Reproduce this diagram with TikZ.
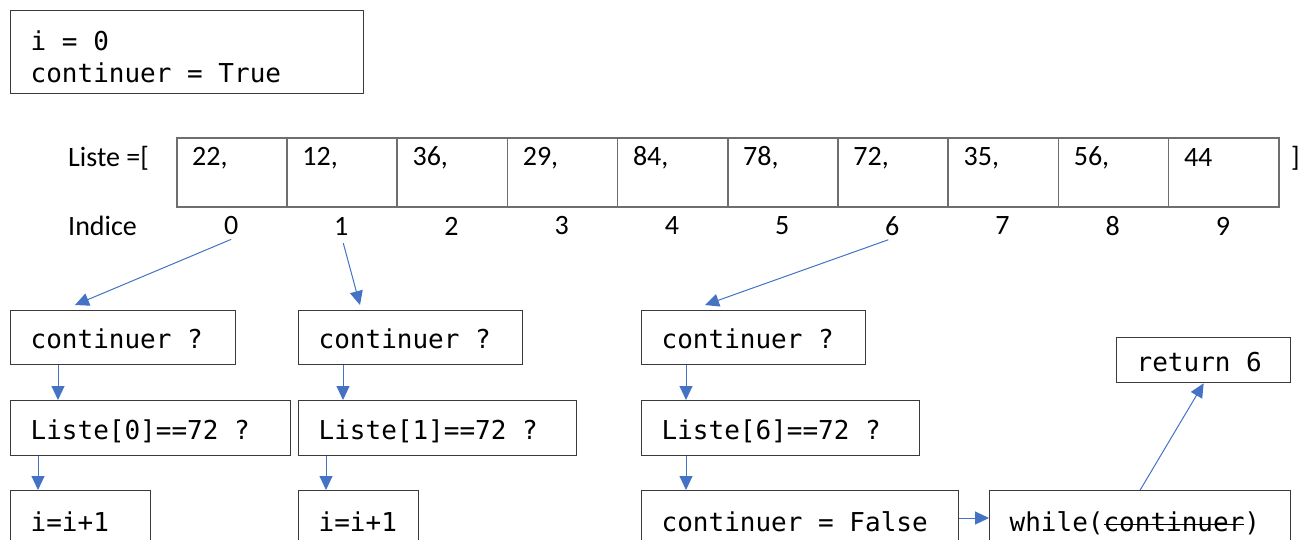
\documentclass[tikz,border=0pt]{standalone}
\usepackage{fontspec}
\setmainfont{Carlito}
\setmonofont{DejaVu Sans Mono}
\usetikzlibrary{arrows.meta,calc}
\definecolor{arrblue}{HTML}{4472C4}
\definecolor{boxline}{HTML}{3A3A3A}
\definecolor{cellline}{HTML}{6E6E6E}
\newcommand\mystrike[1]{\setbox0\hbox{#1}\rlap{\rule[0.25em]{\wd0}{1.6pt}}\box0}
\newcommand\sps{\hbox to \fontcharwd\font`0{}}
\begin{document}
\begin{tikzpicture}[x=1pt,y=-1pt,
  codebox/.style={draw=boxline, line width=1.3pt, anchor=north west,
    inner xsep=20pt, inner ysep=0pt, align=left,
    font=\fontsize{26}{32}\selectfont\ttfamily},
  onerow/.style={text height=25pt, text depth=3pt},
  cell/.style={draw=cellline, line width=1.5pt, anchor=north west,
    minimum width=110.2pt, minimum height=69pt, inner sep=0pt},
  sans/.style={font=\fontsize{28}{32}\selectfont, inner sep=0pt},
  flow/.style={draw=arrblue, line width=1pt, -{Triangle[length=14pt,width=13pt]}}]
\useasboundingbox (0,0) rectangle (1300,539);
\clip (0,0) rectangle (1300,539);

% initial box
\node[codebox, text width=313pt, minimum height=83pt] (init) at (10,10)
  {\rule{0pt}{29pt}i\sps=\sps 0\\continuer\sps=\sps True};

% list
\node[sans, anchor=west] (lst) at (68,158) {Liste =[};
\node[sans, anchor=west] (idx) at (68,226) {Indice};
\foreach \v [count=\n from 0] in {22,12,36,29,84,78,72,35,56,44} {
  \node[cell] (c\n) at ({176+110.2*\n},137) {};
  \node[sans, anchor=west] (v\n) at ($(c\n.north west)+(16,21)$) {\v\ifnum\n<9,\fi};
  \node[sans] (i\n) at ({176+110.2*\n+55.1},226) {\n};
}
\node[sans, anchor=west] (close) at (1291,158) {]};

% row 1
\node[codebox, onerow, text width=185pt, minimum height=54pt] (k0) at (10,310) {continuer\sps ?};
\node[codebox, onerow, text width=184pt, minimum height=54pt] (k1) at (298,310) {continuer\sps ?};
\node[codebox, onerow, text width=184pt, minimum height=54pt] (k6) at (641,310) {continuer\sps ?};
% row 2
\node[codebox, onerow, text width=240pt, minimum height=55pt] (l0) at (10,400) {Liste[0]==72\sps ?};
\node[codebox, onerow, text width=238pt, minimum height=55pt] (l1) at (298,400) {Liste[1]==72\sps ?};
\node[codebox, onerow, text width=238pt, minimum height=55pt] (l6) at (641,400) {Liste[6]==72\sps ?};
% row 3
\node[codebox, onerow, text width=100pt, minimum height=60pt] (a0) at (10,490) {i=i+1};
\node[codebox, onerow, text width=80pt, minimum height=60pt] (a1) at (298,490) {i=i+1};
\node[codebox, onerow, text width=277pt, minimum height=60pt] (f) at (641,490) {continuer\sps=\sps False};
\node[codebox, onerow, text width=261pt, minimum height=60pt] (w) at (989,490)
  {while(\mystrike{continuer})};
\node[codebox, onerow, text width=134pt, minimum height=45pt] (r) at (1116,337) {return\sps 6};

% arrows from indices
\coordinate (t0) at ($(k0.north west)+(65,-5)$);
\coordinate (t1) at ($(k1.north west)+(62,-5)$);
\coordinate (t6) at ($(k6.north west)+(64,-5)$);
\draw[flow] (i0.south) ++(0,4) -- (t0);
\draw[flow] ($(i1.south)+(2,8)$) -- (t1);
\draw[flow] (i6.south) ++(-4,4) -- (t6);

% vertical arrows
\draw[flow] ($(k0.south west)+(48,0)$) -- ($(l0.north west)+(48,0)$);
\draw[flow] ($(k1.south west)+(45,0)$) -- ($(l1.north west)+(45,0)$);
\draw[flow] ($(k6.south west)+(45,0)$) -- ($(l6.north west)+(45,0)$);
\draw[flow] ($(l0.south west)+(28,0)$) -- ($(a0.north west)+(28,0)$);
\draw[flow] ($(l1.south west)+(28,0)$) -- ($(a1.north west)+(28,0)$);
\draw[flow] ($(l6.south west)+(45,0)$) -- ($(f.north west)+(45,0)$);

% final arrows
\draw[flow] ($(f.north east)+(0,28)$) -- ($(w.north west)+(0,28)$);
\draw[flow] (w.north) -- (r.south);
\end{tikzpicture}
\end{document}
